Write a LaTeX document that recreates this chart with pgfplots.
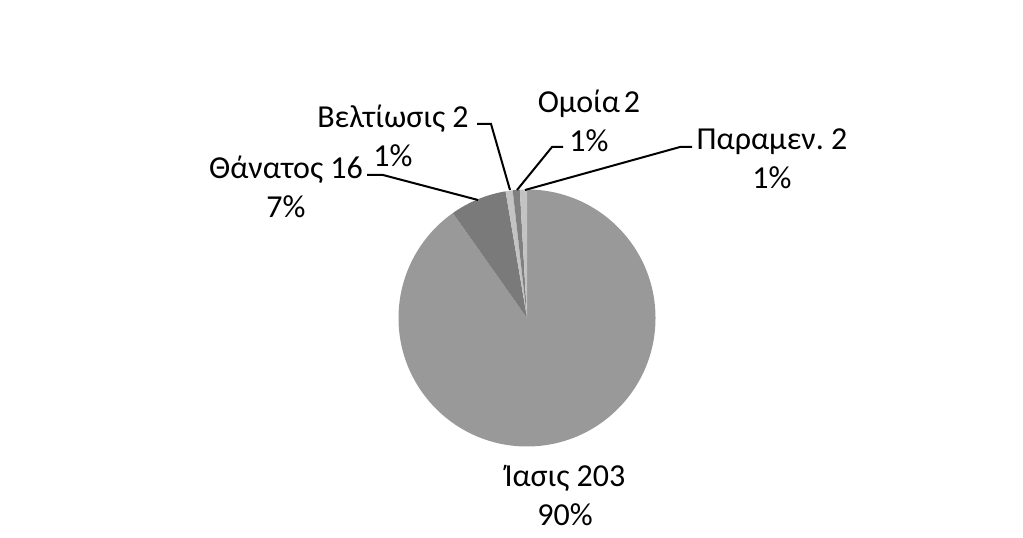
\documentclass[border=0pt]{standalone}
\usepackage{fontspec}
\setmainfont{Carlito}
\usepackage{pgfplots}
\usepackage{pgfplotstable}
\pgfplotsset{compat=1.18}

% slices in Excel order: clockwise from 12 o'clock
\pgfplotstableread{
value
203
16
2
2
2
}\piedata

\definecolor{slA}{HTML}{999999}
\definecolor{slB}{HTML}{7A7A7A}
\definecolor{slC}{HTML}{C3C3C3}
\definecolor{slD}{HTML}{808080}
\def\slicecolor#1{\ifcase#1 slA\or slB\or slC\or slD\or slC\fi}

\begin{document}
\frenchspacing
\fontsize{32}{39}\selectfont
\begin{tikzpicture}
\begin{axis}[hide axis, scale only axis, width=1023pt, height=538pt,
    xmin=0, xmax=1023, ymin=0, ymax=538, clip=false]
  \xdef\total{0}
  \pgfplotsinvokeforeach{0,...,4}{%
    \pgfplotstablegetelem{#1}{value}\of\piedata
    \pgfmathsetmacro\tmp{\total+\pgfplotsretval}\xdef\total{\tmp}}
  \xdef\cum{0}
  \pgfplotsinvokeforeach{0,...,4}{%
    \pgfplotstablegetelem{#1}{value}\of\piedata
    \pgfmathsetmacro\aS{90-\cum/\total*360}
    \pgfmathsetmacro\aE{90-(\cum+\pgfplotsretval)/\total*360}
    \pgfmathsetmacro\tmp{\cum+\pgfplotsretval}\xdef\cum{\tmp}
    \edef\temp{\noexpand\fill[\slicecolor{#1}] (axis cs:527,220) --
      ([shift={(\aS:128.5pt)}]axis cs:527,220)
      arc[start angle=\aS, end angle=\aE, radius=128.5pt] -- cycle;}
    \temp
  }
  % leader lines
  \draw[line width=2pt] (axis cs:367,363) -- (axis cs:383,363) -- (axis cs:478,338);
  \draw[line width=2pt] (axis cs:477,414) -- (axis cs:491,414) -- (axis cs:510,348);
  \draw[line width=2pt] (axis cs:517,348) -- (axis cs:552,391) -- (axis cs:563,391);
  \draw[line width=2pt] (axis cs:525,348) -- (axis cs:680,391) -- (axis cs:692,391);
  % data labels
  \node[align=center] at (axis cs:286,351.5) {Θάνατος 16\\7\%};
  \node[align=center] at (axis cs:393,402.5) {Βελτίωσις 2\\1\%};
  \node[align=center] at (axis cs:589,417.5) {Ομοία\kern0.12em 2\\1\%};
  \node[align=center] at (axis cs:772,379) {Παραμεν. 2\\1\%};
  \node[align=center] at (axis cs:565,42.5) {Ίασις 203\\90\%};
\end{axis}
\pgfresetboundingbox
\useasboundingbox (0,0) rectangle (1023pt,538pt);
\end{tikzpicture}
\end{document}
